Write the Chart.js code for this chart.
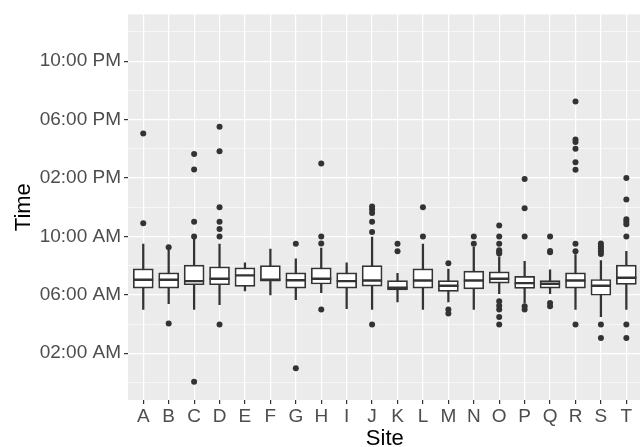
<!DOCTYPE html>
<html>
<head>
<meta charset="utf-8">
<script src="https://cdn.jsdelivr.net/npm/chart.js@4"></script>
<style>
  html, body { margin: 0; padding: 0; background: #fff; overflow: hidden; }
  canvas { display: block; }
</style>
</head>
<body>
<canvas id="chart" width="654" height="447"></canvas>
<script>
// Boxplot summary per site, times in hours after midnight
const sites = ['A', 'B', 'C', 'D', 'E', 'F', 'G', 'H', 'I', 'J', 'K', 'L', 'M', 'N', 'O', 'P', 'Q', 'R', 'S', 'T'];
const whiskerLow  = [5.0, 5.4, 5.0, 5.33, 6.26, 6.0, 5.67, 6.15, 5.06, 5.0, 5.51, 5.0, 5.51, 5.0, 6.08, 5.44, 6.08, 5.0, 4.5, 5.0];
const q1          = [6.46, 6.46, 6.69, 6.69, 6.58, 6.94, 6.46, 6.74, 6.46, 6.6, 6.33, 6.46, 6.24, 6.4, 6.8, 6.44, 6.46, 6.46, 5.97, 6.71];
const median      = [7.03, 7.03, 6.94, 7.1, 7.33, 7.03, 7.0, 7.1, 6.94, 6.98, 6.49, 6.98, 6.62, 6.98, 7.1, 6.8, 6.76, 6.98, 6.62, 7.17];
const q3          = [7.78, 7.51, 8.03, 7.92, 7.85, 8.0, 7.51, 7.85, 7.51, 8.0, 6.98, 7.78, 6.98, 7.62, 7.58, 7.26, 6.98, 7.51, 7.05, 8.03];
const whiskerHigh = [9.48, 9.1, 9.9, 9.48, 8.19, 9.14, 8.46, 9.2, 8.19, 9.95, 7.48, 9.48, 7.76, 9.25, 8.6, 8.3, 7.71, 8.75, 8.35, 8.98];
const outliers = [
    [17.05, 10.9],
    [9.25, 4.04],
    [15.65, 14.58, 11.0, 10.0, 0.05],
    [17.5, 15.83, 12.0, 11.0, 10.5, 10.0, 3.97],
    [],
    [],
    [9.5, 0.98],
    [15.0, 10.0, 9.52, 5.0],
    [],
    [12.05, 11.85, 11.6, 11.0, 10.3, 3.97],
    [9.5, 8.98],
    [12.0, 10.0],
    [8.17, 5.0, 4.72],
    [10.0, 9.5],
    [10.75, 10.0, 9.5, 9.05, 8.94, 8.83, 5.56, 5.26, 5.0, 4.49, 3.97],
    [13.93, 11.93, 10.0, 5.22, 5.0],
    [10.0, 9.0, 8.91, 5.44, 5.22],
    [19.24, 16.63, 16.47, 16.01, 15.08, 14.56, 9.5, 8.98, 3.97],
    [9.52, 9.33, 9.15, 8.98, 8.8, 3.97, 3.04],
    [14.0, 12.52, 11.18, 11.0, 10.84, 10.0, 3.97, 3.04]
];
const yTickValues = [2, 6, 10, 14, 18, 22];
const yTickLabels = ['02:00 AM', '06:00 AM', '10:00 AM', '02:00 PM', '06:00 PM', '10:00 PM'];
const yMinorValues = [0, 4, 8, 12, 16, 20, 24];

const ink = '#333333';
const tickText = '#4D4D4D';
const fontFamily = "'Liberation Sans', Arial, Helvetica, sans-serif";

// grey ggplot panel behind the grid
const panelBackground = {
    id: 'panelBackground',
    beforeDraw(chart) {
        const { ctx, chartArea: a } = chart;
        ctx.save();
        ctx.fillStyle = '#EBEBEB';
        ctx.fillRect(a.left, a.top, a.right - a.left, a.bottom - a.top);
        ctx.restore();
    }
};

const outlierPoints = outliers.flatMap((list, i) => list.map(v => ({ x: i, y: v })));

new Chart(document.getElementById('chart'), {
    type: 'bar',
    data: {
        datasets: [
            {
                type: 'bar',
                data: sites.map((_, i) => ({ x: i, y: [whiskerLow[i], whiskerHigh[i]] })),
                backgroundColor: ink,
                barThickness: 1.6,
                grouped: false,
                order: 4
            },
            {
                type: 'bar',
                data: sites.map((_, i) => ({ x: i, y: [q1[i], q3[i]] })),
                backgroundColor: '#FFFFFF',
                borderColor: ink,
                borderWidth: 1.7,
                borderSkipped: false,
                barThickness: 20,
                grouped: false,
                order: 3
            },
            {
                type: 'scatter',
                data: sites.map((_, i) => ({ x: i, y: median[i] })),
                pointStyle: 'line',
                pointRadius: 10,
                pointBorderColor: ink,
                pointBorderWidth: 2.4,
                order: 2
            },
            {
                type: 'scatter',
                data: outlierPoints,
                pointRadius: 3,
                pointBackgroundColor: ink,
                pointBorderWidth: 0,
                order: 1
            }
        ]
    },
    options: {
        responsive: false,
        animation: false,
        events: [],
        devicePixelRatio: 1,
        layout: { padding: { top: 12, right: 7, bottom: 0, left: 0 } },
        plugins: {
            legend: { display: false },
            tooltip: { enabled: false }
        },
        scales: {
            x: {
                type: 'linear',
                min: -0.6,
                max: 19.6,
                offset: false,
                afterBuildTicks: s => { s.ticks = sites.map((_, i) => ({ value: i })); },
                afterFit: s => { s.height = 47; },
                grid: { offset: false, color: '#FFFFFF', lineWidth: 1.2, tickColor: ink, tickLength: 4, tickWidth: 1.2 },
                border: { display: false },
                ticks: {
                    callback: v => sites[v],
                    color: tickText,
                    font: { family: fontFamily, size: 19 },
                    padding: 1,
                    maxRotation: 0,
                    autoSkip: false
                },
                title: {
                    display: true,
                    text: 'Site',
                    color: '#000000',
                    font: { family: fontFamily, size: 22, lineHeight: 0.72 },
                    padding: 0
                }
            },
            y: {
                type: 'linear',
                position: 'left',
                min: -1.2,
                max: 25.2,
                afterBuildTicks: s => { s.ticks = yTickValues.map(v => ({ value: v })); },
                afterFit: s => { s.width = 128; },
                grid: { color: '#FFFFFF', lineWidth: 1.2, tickColor: ink, tickLength: 4, tickWidth: 1.2 },
                border: { display: false },
                ticks: {
                    callback: v => yTickLabels[yTickValues.indexOf(v)],
                    color: tickText,
                    font: { family: fontFamily, size: 19 },
                    padding: 3
                },
                title: {
                    display: true,
                    text: 'Time',
                    color: '#000000',
                    font: { family: fontFamily, size: 22, lineHeight: 0.72 },
                    padding: { top: 16, bottom: 0 }
                }
            },
            yMinor: {
                type: 'linear',
                position: 'left',
                min: -1.2,
                max: 25.2,
                afterBuildTicks: s => { s.ticks = yMinorValues.map(v => ({ value: v })); },
                afterFit: s => { s.width = 0; },
                grid: { color: '#FFFFFF', lineWidth: 0.6, drawTicks: false },
                border: { display: false },
                ticks: { display: false }
            }
        }
    },
    plugins: [panelBackground]
});
</script>
</body>
</html>
